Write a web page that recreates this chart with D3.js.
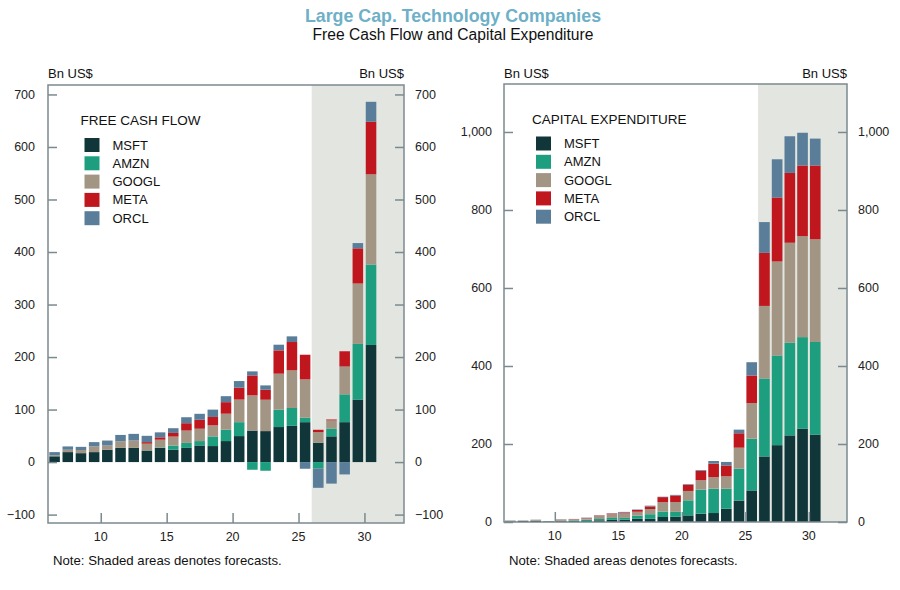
<!DOCTYPE html>
<html>
<head>
<meta charset="utf-8">
<script src="https://cdn.jsdelivr.net/npm/d3@7"></script>
<style>
  body { margin: 0; background: #fff; }
  svg { display: block; font-family: "Liberation Sans", Arial, sans-serif; }
</style>
</head>
<body>
<svg id="chart" width="900" height="590"></svg>
<script>
// ---------- DATA ----------
const years = [2006,2007,2008,2009,2010,2011,2012,2013,2014,2015,2016,2017,2018,2019,2020,2021,2022,2023,2024,2025,2026,2027,2028,2029,2030];
const forecastStart = 2026;
const companies = ["MSFT","AMZN","GOOGL","META","ORCL"];
const companyColors = ["#10363a","#1d9e7f","#a29584","#c0171e","#5a7e99"];

// Free cash flow (Bn US$)
const fcfMSFT  = [11, 19, 17, 19, 23.5, 27, 27, 22, 27, 23.5, 27, 31.7, 30.5, 40, 49.5, 60, 59, 66.7, 69, 76, 36.8, 49, 76, 119, 223];
const fcfAMZN  = [0, 0, 0, 0, 0, 0, 0, 0, 1, 8, 9.5, 8.3, 18.4, 21.6, 26.5, -14.6, -16.5, 33, 34, 8.4, -12, 14.5, 53, 106, 153];
const fcfGOOGL = [2, 4.5, 6, 11, 8, 12.7, 14, 13, 14.6, 17, 23.5, 23.5, 21, 30.5, 43, 67, 59.7, 68.6, 71.6, 73, 20.3, 16, 53, 115, 172];
const fcfMETA  = [0, 0, 0, 0, 0, 0, 0, 3, 4.5, 7, 14, 17, 16, 22, 22.6, 38, 19, 44.4, 54, 47, 4.4, 1.6, 29, 67, 100];
const fcfORCL  = [6, 6.3, 6, 8, 9.5, 12, 12.7, 12, 9.5, 9, 11.4, 11.4, 14, 11.4, 12.7, 7.7, 8.3, 10.8, 10.8, -12.7, -37, -41, -23.5, 10, 38];

// Capital expenditure (Bn US$)
const capexMSFT  = [1.6, 2.3, 3.2, 1.5, 2.0, 2.4, 2.3, 4.3, 5.5, 5.9, 8.3, 8.1, 12.8, 13.5, 17, 21.4, 23, 34, 55, 81, 168, 197, 222, 239, 224];
const capexAMZN  = [0.2, 0.2, 0.3, 0.4, 1.0, 1.8, 3.8, 3.4, 4.9, 4.6, 7.8, 11.9, 14, 12.5, 38.6, 61.6, 62.5, 51.5, 82, 132.7, 200, 230, 238, 235, 237.5];
const capexGOOGL = [1.9, 1.2, 2.4, 0.5, 3.4, 2.6, 3.3, 7.4, 9.5, 11.5, 10.2, 13.2, 24, 25, 24, 24, 29.5, 31.5, 53.5, 91, 186, 241, 256, 259, 263.5];
const capexMETA  = [0, 0, 0, 0, 0.3, 0.6, 1.2, 1.4, 1.8, 2.5, 4.5, 6.7, 13, 17, 16, 24, 34.6, 28, 37, 71, 136, 164, 179, 181, 189];
const capexORCL  = [0.3, 0.3, 0.2, 0.2, 0.3, 0.5, 0.6, 0.6, 0.6, 1.4, 1.2, 2.0, 1, 1.5, 1.5, 2, 6.8, 9, 9.3, 34, 79, 98, 94, 84, 69];

const fcfTicks = [-100, 0, 100, 200, 300, 400, 500, 600, 700];
const capexTicks = [0, 200, 400, 600, 800, 1000];
const xTicks = [10, 15, 20, 25, 30];

const titleText = "Large Cap. Technology Companies";
const subtitleText = "Free Cash Flow and Capital Expenditure";
const unitText = "Bn US$";
const noteText = "Note: Shaded areas denotes forecasts.";

// ---------- BUILD ----------
function rows(series) {
  return years.map((yr, i) => {
    const r = { year: yr % 100 };
    companies.forEach((c, k) => r[c] = series[k][i]);
    return r;
  });
}
const fcfRows = rows([fcfMSFT, fcfAMZN, fcfGOOGL, fcfMETA, fcfORCL]);
const capexRows = rows([capexMSFT, capexAMZN, capexGOOGL, capexMETA, capexORCL]);

const svg = d3.select("#chart");
const color = d3.scaleOrdinal(companies, companyColors);
const frameColor = "#7b8a8f";
const shadeColor = "#e3e5e0";

svg.append("text").attr("x", 453).attr("y", 22).attr("text-anchor", "middle")
  .attr("font-size", 17.8).attr("font-weight", "bold").attr("fill", "#6eb0c7").text(titleText);
svg.append("text").attr("x", 453).attr("y", 40).attr("text-anchor", "middle")
  .attr("font-size", 15.6).attr("fill", "#111").text(subtitleText);

function panel(cfg) {
  const { left, right, top, bottom, yDomain, ticks, data, legendTitle, lx, ly, fmt, labLeftX, labRightX } = cfg;
  const x = d3.scaleLinear().domain([6, 33]).range([left, right]);
  const y = d3.scaleLinear().domain(yDomain).range([bottom, top]);
  const g = svg.append("g");

  // forecast shading
  const xs = x(forecastStart % 100);
  g.append("rect").attr("x", xs).attr("y", top)
    .attr("width", right - xs).attr("height", bottom - top).attr("fill", shadeColor);

  // bars
  const stack = d3.stack().keys(companies).offset(d3.stackOffsetDiverging);
  const series = stack(data);
  g.append("g").selectAll("g").data(series).join("g")
    .attr("fill", d => color(d.key))
    .selectAll("rect").data(d => d).join("rect")
    .attr("x", d => x(d.data.year + cfg.pad))
    .attr("width", d => x(d.data.year + 1 - cfg.pad) - x(d.data.year + cfg.pad))
    .attr("y", d => y(Math.max(d[0], d[1])))
    .attr("height", d => Math.abs(y(d[0]) - y(d[1])));

  // frame
  g.append("rect").attr("x", left).attr("y", top).attr("width", right - left).attr("height", bottom - top)
    .attr("fill", "none").attr("stroke", frameColor).attr("stroke-width", 1.5);

  // left/right axis ticks (inside)
  const yl = g.append("g").attr("transform", `translate(${left},0)`)
    .call(d3.axisRight(y).tickValues(ticks).tickSize(9).tickFormat(""));
  yl.select(".domain").remove();
  yl.selectAll("line").attr("stroke", frameColor).attr("stroke-width", 1.5);
  const yr = g.append("g").attr("transform", `translate(${right},0)`)
    .call(d3.axisLeft(y).tickValues(ticks).tickSize(9).tickFormat(""));
  yr.select(".domain").remove();
  yr.selectAll("line").attr("stroke", frameColor).attr("stroke-width", 1.5);

  // tick labels
  g.append("g").selectAll("text").data(ticks).join("text")
    .attr("x", labLeftX).attr("y", d => y(d)).attr("dy", "0.35em").attr("text-anchor", "end")
    .attr("font-size", 12.5).attr("fill", "#222").text(fmt);
  g.append("g").selectAll("text").data(ticks).join("text")
    .attr("x", labRightX).attr("y", d => y(d)).attr("dy", "0.35em").attr("text-anchor", "start")
    .attr("font-size", 12.5).attr("fill", "#222").text(fmt);

  // x axis ticks (inside) and labels
  const xa = g.append("g").attr("transform", `translate(0,${bottom})`)
    .call(d3.axisTop(x).tickValues(xTicks).tickSize(10).tickFormat(""));
  xa.select(".domain").remove();
  xa.selectAll("line").attr("stroke", frameColor).attr("stroke-width", 1.5);
  g.append("g").selectAll("text").data(xTicks).join("text")
    .attr("x", d => x(d)).attr("y", bottom + 18).attr("text-anchor", "middle")
    .attr("font-size", 12.5).attr("fill", "#222").text(d => d);

  // unit labels
  g.append("text").attr("x", left).attr("y", 78).attr("font-size", 13).attr("fill", "#111").text(unitText);
  g.append("text").attr("x", right).attr("y", 78).attr("text-anchor", "end").attr("font-size", 13).attr("fill", "#111").text(unitText);

  // legend
  g.append("text").attr("x", lx - 4).attr("y", ly).attr("dy", "0.35em").attr("font-size", 13.5).attr("fill", "#111").text(legendTitle);
  const lg = g.append("g").selectAll("g").data(companies).join("g")
    .attr("transform", (d, i) => `translate(${lx},${ly + 24.5 + i * 18.3})`);
  lg.append("rect").attr("x", 0).attr("y", -7).attr("width", 15).attr("height", 14).attr("fill", d => color(d));
  lg.append("text").attr("x", 28).attr("y", 0).attr("dy", "0.35em").attr("font-size", 13).attr("fill", "#111").text(d => d);

  // note
  g.append("text").attr("x", left + 5).attr("y", 565).attr("font-size", 13.2).attr("fill", "#111").text(noteText);
}

panel({
  left: 48, right: 404, top: 85, bottom: 523, yDomain: [-116, 718], ticks: fcfTicks, data: fcfRows,
  legendTitle: "FREE CASH FLOW", lx: 84.5, ly: 120.5, fmt: d3.format(","), labLeftX: 35, labRightX: 415, pad: 0.1
});
panel({
  left: 504, right: 847, top: 84, bottom: 522, yDomain: [0, 1123], ticks: capexTicks, data: capexRows,
  legendTitle: "CAPITAL EXPENDITURE", lx: 536, ly: 119, fmt: d3.format(","), labLeftX: 492, labRightX: 858, pad: 0.08
});
</script>
</body>
</html>
